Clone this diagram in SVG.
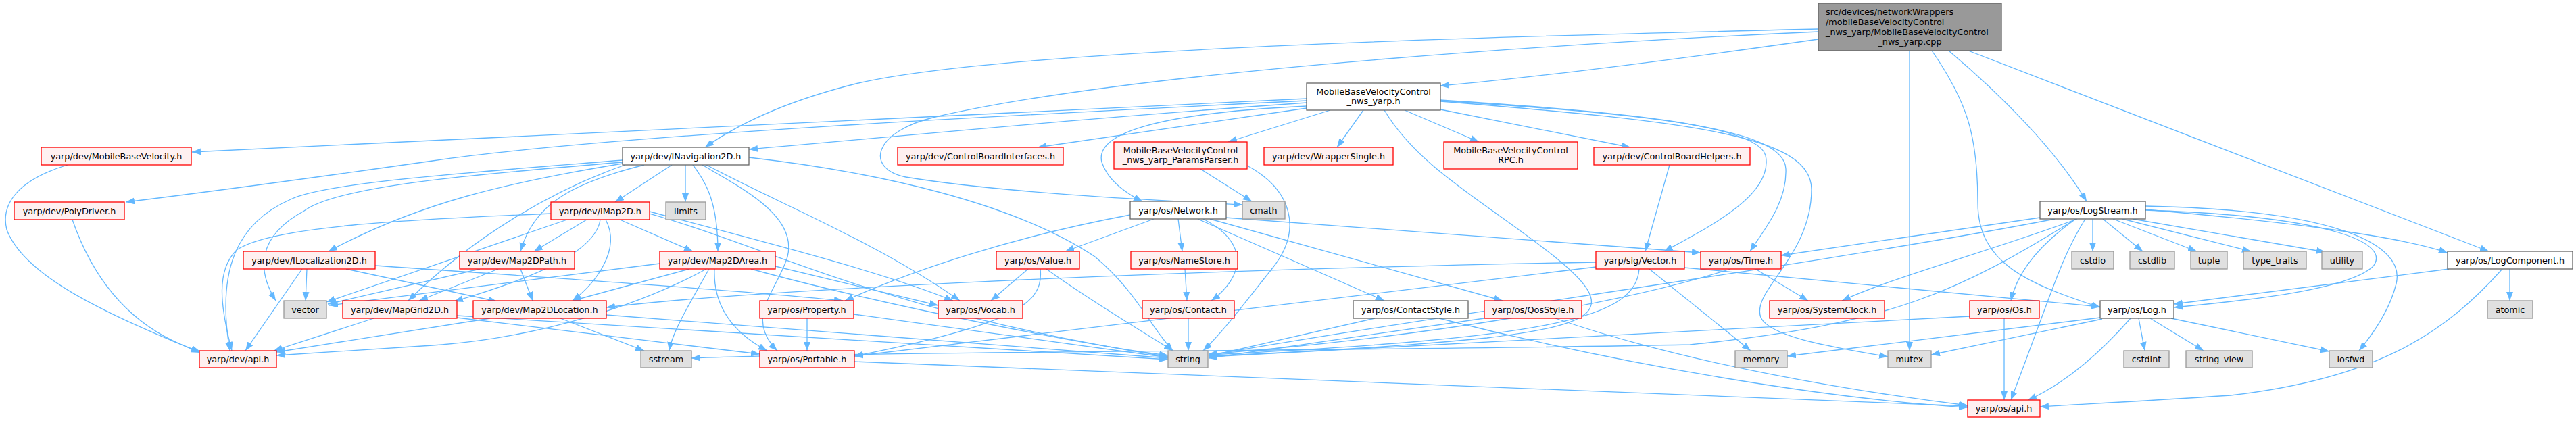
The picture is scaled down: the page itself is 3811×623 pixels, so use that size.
<svg xmlns="http://www.w3.org/2000/svg" width="3811" height="623" viewBox="0 0 3811 623">
<style>
rect{stroke-width:1.3}
.r{fill:#fff0f0;stroke:#ff0000}
.g{fill:#e0e0e0;stroke:#999999}
.w{fill:#ffffff;stroke:#666666}
.m{fill:#999999;stroke:#666666}
text{font-family:"DejaVu Sans","Liberation Sans",sans-serif;font-size:12.8px;fill:#000}
.c{text-anchor:middle}
#edges path{fill:none;stroke:#63b8ff;stroke-width:1.3;marker-end:url(#a)}
</style>
<defs>
<marker id="a" markerUnits="userSpaceOnUse" markerWidth="14" markerHeight="12" refX="13" refY="5" orient="auto"><path d="M0,0 L13,5 L0,10 z" fill="#63b8ff"/></marker>
</defs>
<rect x="0" y="0" width="3811" height="623" fill="#ffffff"/>
<g id="edges">
<path d="M2690,58 C2500,85 2300,112 2131,127"/>
<path d="M2690,43 C2300,52 1500,70 1270,123 C1160,150 1090,185 1043,218"/>
<path d="M2690,47 C2400,60 1700,100 1384,173 C1290,195 1280,250 1340,262 C1480,285 1700,296 1838,303"/>
<path d="M2825,75 L2825,519"/>
<path d="M2858,75 C2910,150 2926,200 2926,300 C2926,390 3000,420 3107,455"/>
<path d="M2883,75 C2960,140 3040,220 3087,298"/>
<path d="M2912,75 L3682,372"/>
<path d="M1933,146 L284,225"/>
<path d="M1933,149 C1500,170 900,200 640,238 C450,265 300,285 186,299"/>
<path d="M1933,152 C1600,175 1350,200 1108,221"/>
<path d="M1933,157 C1700,168 1620,200 1630,240 C1640,270 1670,288 1690,298"/>
<path d="M1933,160 L1535,218"/>
<path d="M1968,163 L1817,210"/>
<path d="M2017,163 L1978,218"/>
<path d="M2078,163 L2188,210"/>
<path d="M2131,162 L2412,218"/>
<path d="M2131,148 C2400,165 2600,185 2612,230 C2625,290 2520,340 2462,372"/>
<path d="M2131,149 C2450,170 2640,190 2642,250 C2644,300 2610,340 2589,372"/>
<path d="M2131,150 C2500,180 2680,200 2680,280 C2680,380 2590,430 2605,470 C2620,500 2720,515 2793,528"/>
<path d="M2048,163 C2100,250 2200,300 2300,380 C2400,460 2360,480 2200,500 C2050,515 1900,522 1788,527"/>
<path d="M100,244 C30,265 0,300 10,340 C40,420 200,480 296,522"/>
<path d="M107,325 C140,420 200,490 296,520"/>
<path d="M1776,250 L1852,298"/>
<path d="M1845,245 C1910,280 1930,340 1880,400 C1840,450 1810,490 1780,519"/>
<path d="M2470,244 L2434,372"/>
<path d="M994,244 L910,299"/>
<path d="M1014,244 L1014,299"/>
<path d="M1025,244 C1045,270 1062,300 1062,372"/>
<path d="M921,242 C750,270 620,300 486,372"/>
<path d="M921,237 C700,255 480,270 430,295 C350,330 320,400 340,519"/>
<path d="M921,240 C700,258 500,275 450,312 C380,350 380,400 408,445"/>
<path d="M925,244 C820,280 700,350 604,445"/>
<path d="M953,244 C850,270 790,300 770,372"/>
<path d="M1108,233 C1300,255 1500,300 1620,380 C1680,430 1700,480 1735,519"/>
<path d="M1039,244 C1100,280 1180,320 1165,380 C1150,430 1100,470 1150,519"/>
<path d="M1045,244 C1150,300 1300,360 1420,445"/>
<path d="M868,325 L790,372"/>
<path d="M917,325 L1025,372"/>
<path d="M896,325 C920,370 880,420 847,445"/>
<path d="M888,325 C880,380 760,420 672,446"/>
<path d="M839,325 L483,447"/>
<path d="M815,316 C600,325 400,335 350,370 C320,400 325,450 343,519"/>
<path d="M961,313 C1100,350 1300,400 1410,445"/>
<path d="M961,316 C1150,370 1300,460 1728,528"/>
<path d="M454,398 L452,445"/>
<path d="M447,398 L363,519"/>
<path d="M512,398 L735,446"/>
<path d="M555,393 C800,410 1100,430 1247,445"/>
<path d="M770,398 L788,445"/>
<path d="M710,398 L485,450"/>
<path d="M737,398 L620,445"/>
<path d="M1020,398 L847,445"/>
<path d="M1049,398 C1020,450 995,490 990,519"/>
<path d="M1057,398 C1055,450 1080,490 1135,519"/>
<path d="M976,390 L487,452"/>
<path d="M1045,398 C950,450 800,500 640,511 C550,517 470,522 409,526"/>
<path d="M1111,398 C1300,450 1600,510 1728,526"/>
<path d="M1147,394 L1388,452"/>
<path d="M829,471 L953,519"/>
<path d="M725,471 L409,521"/>
<path d="M897,466 L1728,530"/>
<path d="M553,471 L405,519"/>
<path d="M676,470 L1124,524"/>
<path d="M676,467 L1728,532"/>
<path d="M1194,471 L1194,519"/>
<path d="M1263,465 L1728,529"/>
<path d="M1264,535 L2911,601"/>
<path d="M1521,398 L1466,445"/>
<path d="M1548,398 C1620,450 1690,490 1735,519"/>
<path d="M1539,398 C1545,450 1500,480 1264,527"/>
<path d="M1753,398 L1756,445"/>
<path d="M1758,471 L1758,519"/>
<path d="M1707,324 L1576,372"/>
<path d="M1743,324 L1749,372"/>
<path d="M1780,324 C1850,360 1840,410 1792,445"/>
<path d="M1772,324 L2048,445"/>
<path d="M1790,324 L2223,445"/>
<path d="M1813,322 L2516,374"/>
<path d="M1672,318 C1500,350 1350,400 1250,445"/>
<path d="M2034,471 L1788,527"/>
<path d="M2129,471 C2400,540 2700,590 2911,603"/>
<path d="M2196,471 L1788,530"/>
<path d="M2301,471 C2500,540 2750,580 2911,600"/>
<path d="M2425,398 C2420,470 2300,500 1788,525"/>
<path d="M2361,395 L1264,527"/>
<path d="M2440,398 L2590,519"/>
<path d="M2492,396 L3107,454"/>
<path d="M2361,388 C1700,400 1100,430 897,455"/>
<path d="M3018,322 L2635,378"/>
<path d="M3073,324 C2950,370 2800,410 2725,445"/>
<path d="M3040,324 C2700,390 2100,470 1788,526"/>
<path d="M3071,324 C2900,430 2800,480 2500,510 C2000,520 1300,520 1023,530"/>
<path d="M3071,324 C3020,360 2985,400 2975,445"/>
<path d="M3085,324 C3050,380 3040,420 2975,592"/>
<path d="M3096,324 L3096,372"/>
<path d="M3111,324 L3170,372"/>
<path d="M3126,324 L3250,372"/>
<path d="M3140,324 L3330,372"/>
<path d="M3155,324 L3440,373"/>
<path d="M3174,310 C3400,330 3550,350 3621,374"/>
<path d="M3174,311 C3450,320 3540,360 3510,395 C3470,430 3320,445 3216,455"/>
<path d="M3174,305 C3450,310 3560,360 3545,420 C3535,460 3510,495 3490,519"/>
<path d="M2965,471 L2965,592"/>
<path d="M2914,468 L1788,528"/>
<path d="M3107,470 L2644,527"/>
<path d="M3110,472 L2857,525"/>
<path d="M3152,471 C3100,530 3050,570 3000,592"/>
<path d="M3164,471 L3173,519"/>
<path d="M3181,471 L3260,519"/>
<path d="M3212,471 L3446,520"/>
<path d="M3623,398 L3216,450"/>
<path d="M3713,398 L3713,445"/>
<path d="M3702,398 C3620,490 3520,560 3300,585 C3150,595 3080,598 3018,602"/>
<path d="M2597,398 L2675,445"/>
<path d="M2560,398 C2400,450 2100,500 1788,524"/>
</g>
<g id="n_main"><rect class="m" x="2690" y="5" width="271" height="70"/><text x="2701" y="21.5">src/devices/networkWrappers</text><text x="2701" y="36.5">/mobileBaseVelocityControl</text><text x="2701" y="51.5">_nws_yarp/MobileBaseVelocityControl</text><text class="c" x="2825.5" y="66">_nws_yarp.cpp</text></g>
<g id="n_nwsh"><rect class="w" x="1933" y="123" width="198" height="40"/><text class="c" x="2032" y="139.5">MobileBaseVelocityControl</text><text class="c" x="2032" y="154">_nws_yarp.h</text></g>
<g id="n_mbv"><rect class="r" x="61" y="218" width="222" height="26"/><text class="c" x="172" y="235.5">yarp/dev/MobileBaseVelocity.h</text></g>
<g id="n_poly"><rect class="r" x="21" y="299" width="163" height="26"/><text class="c" x="102.5" y="316.5">yarp/dev/PolyDriver.h</text></g>
<g id="n_iloc"><rect class="r" x="360" y="372" width="195" height="26"/><text class="c" x="457.5" y="389.5">yarp/dev/ILocalization2D.h</text></g>
<g id="n_vector"><rect class="g" x="420" y="445" width="63" height="26"/><text class="c" x="451.5" y="462.5">vector</text></g>
<g id="n_mapgrid"><rect class="r" x="507" y="445" width="169" height="26"/><text class="c" x="591.5" y="462.5">yarp/dev/MapGrid2D.h</text></g>
<g id="n_devapi"><rect class="r" x="295" y="519" width="114" height="25"/><text class="c" x="352" y="536">yarp/dev/api.h</text></g>
<g id="n_inav"><rect class="w" x="921" y="218" width="187" height="26"/><text class="c" x="1014.5" y="235.5">yarp/dev/INavigation2D.h</text></g>
<g id="n_imap"><rect class="r" x="815" y="299" width="146" height="26"/><text class="c" x="888" y="316.5">yarp/dev/IMap2D.h</text></g>
<g id="n_limits"><rect class="g" x="985" y="299" width="59" height="26"/><text class="c" x="1014.5" y="316.5">limits</text></g>
<g id="n_path"><rect class="r" x="680" y="372" width="170" height="26"/><text class="c" x="765" y="389.5">yarp/dev/Map2DPath.h</text></g>
<g id="n_area"><rect class="r" x="976" y="372" width="171" height="26"/><text class="c" x="1061.5" y="389.5">yarp/dev/Map2DArea.h</text></g>
<g id="n_loc"><rect class="r" x="700" y="445" width="197" height="26"/><text class="c" x="798.5" y="462.5">yarp/dev/Map2DLocation.h</text></g>
<g id="n_prop"><rect class="r" x="1124" y="445" width="139" height="26"/><text class="c" x="1193.5" y="462.5">yarp/os/Property.h</text></g>
<g id="n_sstream"><rect class="g" x="948" y="519" width="75" height="25"/><text class="c" x="985.5" y="536">sstream</text></g>
<g id="n_portable"><rect class="r" x="1124" y="519" width="140" height="25"/><text class="c" x="1194" y="536">yarp/os/Portable.h</text></g>
<g id="n_cbi"><rect class="r" x="1328" y="218" width="245" height="26"/><text class="c" x="1450.5" y="235.5">yarp/dev/ControlBoardInterfaces.h</text></g>
<g id="n_params"><rect class="r" x="1648" y="210" width="197" height="40"/><text class="c" x="1746.5" y="226.5">MobileBaseVelocityControl</text><text class="c" x="1746.5" y="241">_nws_yarp_ParamsParser.h</text></g>
<g id="n_wrap"><rect class="r" x="1870" y="218" width="191" height="26"/><text class="c" x="1965.5" y="235.5">yarp/dev/WrapperSingle.h</text></g>
<g id="n_network"><rect class="w" x="1672" y="298" width="142" height="26"/><text class="c" x="1743" y="315.5">yarp/os/Network.h</text></g>
<g id="n_cmath"><rect class="g" x="1838" y="298" width="63" height="26"/><text class="c" x="1869.5" y="315.5">cmath</text></g>
<g id="n_value"><rect class="r" x="1474" y="372" width="123" height="26"/><text class="c" x="1535.5" y="389.5">yarp/os/Value.h</text></g>
<g id="n_namestore"><rect class="r" x="1673" y="372" width="158" height="26"/><text class="c" x="1752" y="389.5">yarp/os/NameStore.h</text></g>
<g id="n_vocab"><rect class="r" x="1388" y="445" width="125" height="26"/><text class="c" x="1450.5" y="462.5">yarp/os/Vocab.h</text></g>
<g id="n_contact"><rect class="r" x="1690" y="445" width="136" height="26"/><text class="c" x="1758" y="462.5">yarp/os/Contact.h</text></g>
<g id="n_string"><rect class="g" x="1728" y="519" width="59" height="25"/><text class="c" x="1757.5" y="536">string</text></g>
<g id="n_rpc"><rect class="r" x="2136" y="210" width="198" height="40"/><text class="c" x="2235" y="226.5">MobileBaseVelocityControl</text><text class="c" x="2235" y="241">RPC.h</text></g>
<g id="n_cbh"><rect class="r" x="2358" y="218" width="231" height="26"/><text class="c" x="2473.5" y="235.5">yarp/dev/ControlBoardHelpers.h</text></g>
<g id="n_sigvector"><rect class="r" x="2361" y="372" width="131" height="26"/><text class="c" x="2426.5" y="389.5">yarp/sig/Vector.h</text></g>
<g id="n_time"><rect class="r" x="2516" y="372" width="119" height="26"/><text class="c" x="2575.5" y="389.5">yarp/os/Time.h</text></g>
<g id="n_cstyle"><rect class="w" x="2002" y="445" width="170" height="26"/><text class="c" x="2087" y="462.5">yarp/os/ContactStyle.h</text></g>
<g id="n_qos"><rect class="r" x="2196" y="445" width="144" height="26"/><text class="c" x="2268" y="462.5">yarp/os/QosStyle.h</text></g>
<g id="n_logstream"><rect class="w" x="3018" y="298" width="156" height="26"/><text class="c" x="3096" y="315.5">yarp/os/LogStream.h</text></g>
<g id="n_sysclock"><rect class="r" x="2618" y="445" width="170" height="26"/><text class="c" x="2703" y="462.5">yarp/os/SystemClock.h</text></g>
<g id="n_os"><rect class="r" x="2914" y="445" width="103" height="26"/><text class="c" x="2965.5" y="462.5">yarp/os/Os.h</text></g>
<g id="n_log"><rect class="w" x="3107" y="445" width="109" height="26"/><text class="c" x="3161.5" y="462.5">yarp/os/Log.h</text></g>
<g id="n_cstdio"><rect class="g" x="3065" y="372" width="62" height="26"/><text class="c" x="3096" y="389.5">cstdio</text></g>
<g id="n_cstdlib"><rect class="g" x="3151" y="372" width="66" height="26"/><text class="c" x="3184" y="389.5">cstdlib</text></g>
<g id="n_memory"><rect class="g" x="2567" y="519" width="77" height="25"/><text class="c" x="2605.5" y="536">memory</text></g>
<g id="n_mutex"><rect class="g" x="2793" y="519" width="64" height="25"/><text class="c" x="2825" y="536">mutex</text></g>
<g id="n_cstdint"><rect class="g" x="3142" y="519" width="67" height="25"/><text class="c" x="3175.5" y="536">cstdint</text></g>
<g id="n_osapi"><rect class="r" x="2911" y="592" width="107" height="25"/><text class="c" x="2964.5" y="609">yarp/os/api.h</text></g>
<g id="n_tuple"><rect class="g" x="3241" y="372" width="54" height="26"/><text class="c" x="3268" y="389.5">tuple</text></g>
<g id="n_typetraits"><rect class="g" x="3319" y="372" width="93" height="26"/><text class="c" x="3365.5" y="389.5">type_traits</text></g>
<g id="n_utility"><rect class="g" x="3435" y="372" width="60" height="26"/><text class="c" x="3465" y="389.5">utility</text></g>
<g id="n_logcomp"><rect class="w" x="3621" y="372" width="185" height="26"/><text class="c" x="3713.5" y="389.5">yarp/os/LogComponent.h</text></g>
<g id="n_atomic"><rect class="g" x="3680" y="445" width="67" height="26"/><text class="c" x="3713.5" y="462.5">atomic</text></g>
<g id="n_stringview"><rect class="g" x="3234" y="519" width="98" height="25"/><text class="c" x="3283" y="536">string_view</text></g>
<g id="n_iosfwd"><rect class="g" x="3446" y="519" width="64" height="25"/><text class="c" x="3478" y="536">iosfwd</text></g>
</svg>
